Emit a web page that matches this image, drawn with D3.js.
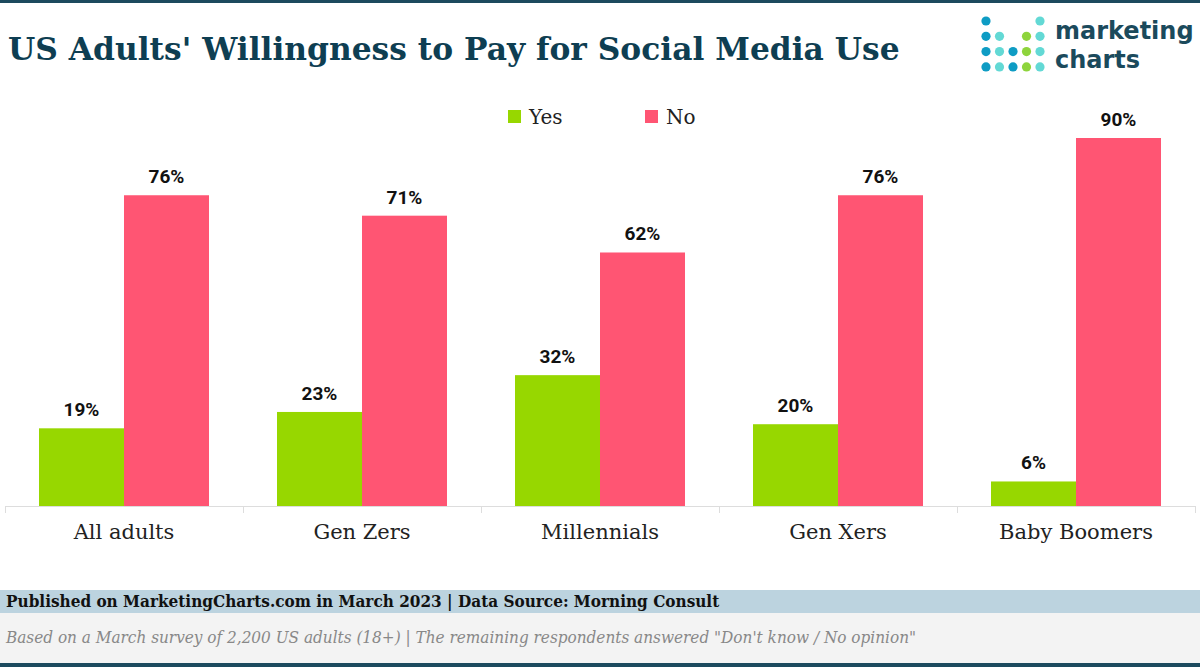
<!DOCTYPE html>
<meta charset="utf-8">
<style>
    body { margin: 0; background: #fff; }
    svg { display: block; }
    .title { font-family: "DejaVu Serif", serif; font-weight: bold; font-size: 31.3px; fill: #0e3e52; }
    .logo { font-family: "DejaVu Sans", sans-serif; font-weight: bold; font-size: 24px; fill: #1b4a5c; }
    .legend text { font-family: "DejaVu Serif", serif; font-size: 20px; fill: #222; }
    .value { font-family: Roboto, sans-serif; font-weight: bold; font-size: 19px; fill: #111; }
    .xaxis text { font-family: "DejaVu Serif", serif; font-size: 21px; fill: #222; }
    .xaxis line, .xaxis path { stroke: #ddd; }
    .pub { font-family: "DejaVu Serif Condensed", "DejaVu Serif", serif; font-weight: bold; font-size: 17px; fill: #111; }
    .note { font-family: "DejaVu Serif Condensed", "DejaVu Serif", serif; font-style: italic; font-size: 17px; fill: #888; }
</style>
<svg id="svg" width="1200" height="667"></svg>
<script src="https://d3js.org/d3.v7.min.js"></script>
<script>

    // chart data
    var categories = ["All adults", "Gen Zers", "Millennials", "Gen Xers", "Baby Boomers"];
    var seriesNames = ["Yes", "No"];
    var yesValues = [19, 23, 32, 20, 6];
    var noValues = [76, 71, 62, 76, 90];
    var colors = ["#97d700", "#ff5573"];

    var svg = d3.select("svg"),
        width = +svg.attr("width"),
        height = +svg.attr("height");

    // top border
    svg.append("rect").attr("x", 0).attr("y", 0).attr("width", width).attr("height", 3).attr("fill", "#1c4a5e");

    svg.append("text").attr("class", "title").attr("x", 8).attr("y", 60)
        .text("US Adults' Willingness to Pay for Social Media Use");

    // logo dots (column, row, colour)
    var dots = [
        [0,0,"b"],[0,1,"b"],[0,2,"b"],[0,3,"b"],
        [1,1,"t"],[1,2,"t"],[1,3,"t"],
        [2,2,"b"],[2,3,"b"],
        [3,1,"g"],[3,2,"g"],[3,3,"g"],
        [4,0,"t"],[4,1,"t"],[4,2,"t"],[4,3,"t"]
    ];
    var dotColor = {b: "#0e9cc4", t: "#63d9d5", g: "#8ed43c"};
    svg.append("g").selectAll("circle").data(dots).enter().append("circle")
        .attr("cx", function (d) { return 986 + d[0] * 13.5; })
        .attr("cy", function (d) { return 21 + d[1] * 15.3; })
        .attr("r", 4.6)
        .attr("fill", function (d) { return dotColor[d[2]]; });
    svg.append("text").attr("class", "logo").attr("x", 1055).attr("y", 39).text("marketing");
    svg.append("text").attr("class", "logo").attr("x", 1055).attr("y", 68).text("charts");

    // scales
    var x0 = d3.scaleBand().domain(categories).range([5, 1195]);
    var x1 = d3.scaleBand().domain(seriesNames).range([0, 170]);
    var y = d3.scaleLinear().domain([0, 90]).range([506, 138]);

    var rows = categories.map(function (c, i) {
        return {cat: c, vals: [{s: "Yes", v: yesValues[i]}, {s: "No", v: noValues[i]}]};
    });

    // legend
    var legend = svg.append("g").attr("class", "legend");
    var legendX = [508, 645];
    seriesNames.forEach(function (s, i) {
        legend.append("rect").attr("x", legendX[i]).attr("y", 110).attr("width", 13).attr("height", 13).attr("fill", colors[i]);
        legend.append("text").attr("x", legendX[i] + 21).attr("y", 124).text(s);
    });

    // axis
    var axis = svg.append("g").attr("class", "xaxis").attr("transform", "translate(0,506)");
    axis.append("line").attr("x1", 5).attr("x2", 1195).attr("y1", 0.5).attr("y2", 0.5);
    axis.selectAll("line.tick").data(d3.range(categories.length + 1)).enter().append("line")
        .attr("class", "tick")
        .attr("x1", function (i) { return Math.round(x0.range()[0] + i * x0.step()) + 0.5; })
        .attr("x2", function (i) { return Math.round(x0.range()[0] + i * x0.step()) + 0.5; })
        .attr("y1", 0).attr("y2", 7);
    axis.selectAll("text").data(categories).enter().append("text")
        .attr("x", function (d) { return x0(d) + x0.bandwidth() / 2; })
        .attr("y", 33)
        .attr("text-anchor", "middle")
        .text(function (d) { return d; });

    // bars
    var group = svg.append("g").selectAll("g").data(rows).enter().append("g")
        .attr("transform", function (d) { return "translate(" + (x0(d.cat) + x0.bandwidth() / 2 - 85) + ",0)"; });

    group.selectAll("rect").data(function (d) { return d.vals; }).enter().append("rect")
        .attr("x", function (d) { return x1(d.s); })
        .attr("y", function (d) { return y(d.v); })
        .attr("width", x1.bandwidth())
        .attr("height", function (d) { return y(0) - y(d.v); })
        .attr("fill", function (d, i) { return colors[i]; });

    group.selectAll("text").data(function (d) { return d.vals; }).enter().append("text")
        .attr("class", "value")
        .attr("x", function (d) { return x1(d.s) + x1.bandwidth() / 2; })
        .attr("y", function (d) { return y(d.v) - 12; })
        .attr("text-anchor", "middle")
        .text(function (d) { return d.v + "%"; });

    // footer
    svg.append("rect").attr("x", 0).attr("y", 590).attr("width", width).attr("height", 23).attr("fill", "#bcd3df");
    svg.append("rect").attr("x", 0).attr("y", 613).attr("width", width).attr("height", 50).attr("fill", "#f3f3f3");
    svg.append("rect").attr("x", 0).attr("y", 663).attr("width", width).attr("height", 4).attr("fill", "#1c4a5e");
    svg.append("text").attr("class", "pub").attr("x", 6).attr("y", 607)
        .text("Published on MarketingCharts.com in March 2023 | Data Source: Morning Consult");
    svg.append("text").attr("class", "note").attr("x", 6).attr("y", 643)
        .text("Based on a March survey of 2,200 US adults (18+) | The remaining respondents answered \"Don't know / No opinion\"");

</script>
